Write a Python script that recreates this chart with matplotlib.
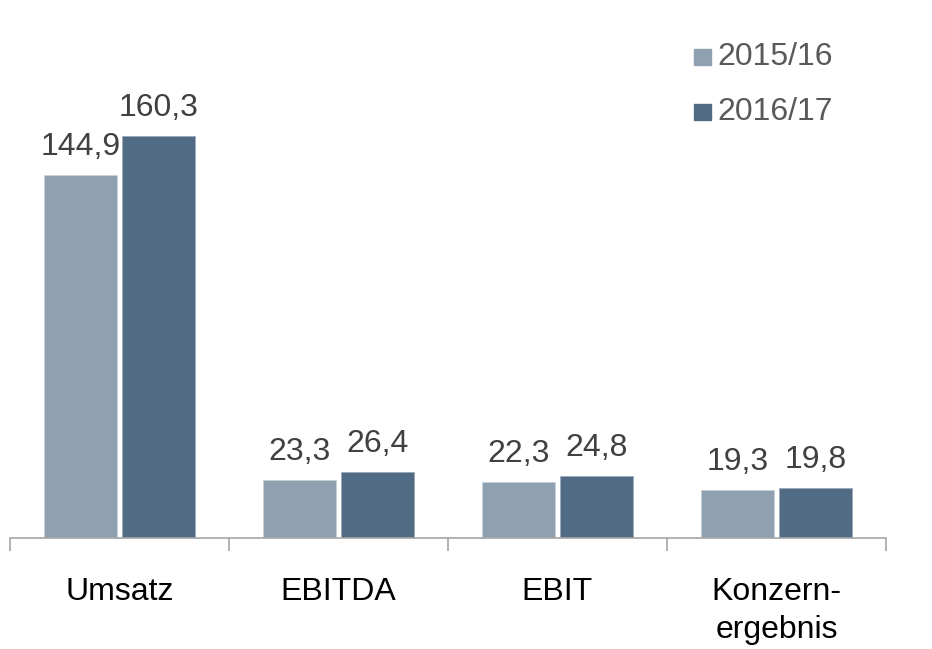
import matplotlib
matplotlib.use("Agg")
import matplotlib.pyplot as plt
import numpy as np
from matplotlib.patches import Rectangle

plt.rcParams['font.family'] = ['Liberation Sans', 'DejaVu Sans']

categories = ["Umsatz", "EBITDA", "EBIT", "Konzern-\nergebnis"]
series_names = ["2015/16", "2016/17"]
values_2015 = [144.9, 23.3, 22.3, 19.3]
values_2016 = [160.3, 26.4, 24.8, 19.8]
labels_2015 = ["144,9", "23,3", "22,3", "19,3"]
labels_2016 = ["160,3", "26,4", "24,8", "19,8"]
colors = ["#8FA1B0", "#516B84"]

FS = 23

fig = plt.figure(figsize=(9.32, 6.49), dpi=100)
ax = fig.add_axes([10/932, 111/649, 876/932, 538/649])

x = np.arange(len(categories))
w = 0.333
gap = 0.013
b1 = ax.bar(x - w/2 - gap, values_2015, w, color=colors[0], edgecolor='#c8d0d8', linewidth=0.5)
b2 = ax.bar(x + w/2 + gap, values_2016, w, color=colors[1], edgecolor='#9aa8b6', linewidth=0.5)

for bars, labs in ((b1, labels_2015), (b2, labels_2016)):
    for r, lab in zip(bars, labs):
        ax.annotate(lab, (r.get_x() + r.get_width()/2, r.get_height()),
                    xytext=(0, 14.4), textcoords='offset points',
                    ha='center', va='baseline', fontsize=FS, color='#404040')

ax.set_xlim(-0.5, len(categories) - 0.5)
ax.set_ylim(0, 214.5)
ax.set_yticks([])
for s in ['top', 'right', 'left']:
    ax.spines[s].set_visible(False)
ax.spines['bottom'].set_color('#a6a6a6')
ax.spines['bottom'].set_linewidth(1.2)
ax.set_xticks(np.arange(len(categories) + 1) - 0.5, minor=False)
ax.set_xticklabels([])
ax.tick_params(axis='x', which='major', length=9, color='#a6a6a6', width=1.2)
ax.set_xticks(x, minor=True)
ax.set_xticklabels(categories, minor=True, fontsize=FS, color='black', linespacing=1.35, va='top')
ax.tick_params(axis='x', which='minor', length=0, pad=28)

# legend
for i, (name, c) in enumerate(zip(series_names, colors)):
    y = 57 + i * 55
    fig.patches.append(Rectangle((694/932, 1 - (y + 8)/649), 17/932, 16/649,
                                 transform=fig.transFigure, color=c, figure=fig))
    fig.text(717/932, 1 - y/649, name, fontsize=FS, color='#595959', va='center', ha='left')

fig.savefig("out.png", dpi=100)
